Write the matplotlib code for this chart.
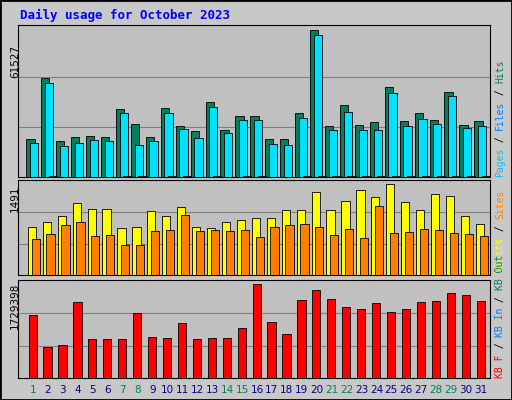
import matplotlib
matplotlib.use("Agg")
import matplotlib.pyplot as plt
from matplotlib.patches import Rectangle

days = list(range(1, 32))
weekend = [1, 7, 8, 14, 15, 21, 22, 28, 29]
hits_px = [139,78,141,137,136,137,109,124,137,108,126,131,102,130,116,116,139,139,113,30,126,105,125,122,87,121,113,120,92,125,121]
files_px = [143,83,146,143,140,141,113,145,141,113,129,138,107,133,120,120,144,145,118,35,130,112,130,130,93,126,119,124,96,128,126]
visits_px = [227,222,216,203,209,209,228,227,211,216,207,227,228,222,220,218,218,210,210,192,210,201,190,197,184,202,210,194,196,216,224]
sites_px = [239,234,225,222,236,235,245,245,231,230,215,231,230,231,230,237,227,225,224,227,235,229,238,206,233,232,229,230,233,234,236]
kb_px = [315,347,345,302,339,339,339,313,337,338,323,339,338,338,328,284,322,334,300,290,299,307,309,303,312,309,302,301,293,295,301]
hits = [(177-y)/147*61527 for y in hits_px]
files = [(177-y)/147*61527 for y in files_px]
pages = [v*0.01 for v in hits]
visits = [(275-y)/91*1491 for y in visits_px]
sites = [(275-y)/91*1491 for y in sites_px]
kb = [(378-y)/94*1729398 for y in kb_px]

W, H = 512, 400
fig = plt.figure(figsize=(5.12, 4.0), dpi=100, facecolor="#C8C8C8")
fig.patches.append(Rectangle((0, 0), 1, 1, transform=fig.transFigure, fill=False, edgecolor="black", lw=2))
fig.text(20/W, 1-15/H, "Daily usage for October 2023", color="#0000FF", fontsize=9,
         fontweight="bold", family="DejaVu Sans Mono", va="center")

def panel(top, bot):
    ax = fig.add_axes([18/W, 1-bot/H, 472/W, (bot-top)/H])
    ax.set_facecolor("#C0C0C0")
    ax.set_xlim(-0.005, 31.6)
    ax.set_xticks([]); ax.set_yticks([])
    for s in ax.spines.values():
        s.set_color("black")
    return ax

def bars(ax, vals, off, color, w=0.55):
    ax.bar([d+off for d in days], vals, width=w, align="edge", color=color,
           edgecolor="black", linewidth=0.6, zorder=3)

ax1 = panel(25, 177)
ax1.set_ylim(0, max(hits)*152/147)
for g in [0.33, 0.66]:
    ax1.axhline(max(hits)*152/147*g, color="#808080", lw=0.8, zorder=1)
bars(ax1, hits, -0.45, "#008060")
bars(ax1, files, -0.2, "#00E0FF")
bars(ax1, pages, 0.05, "#00C0FF")

ax2 = panel(180, 275)
ax2.set_ylim(0, max(visits)*95/91)
for g in [0.33, 0.66]:
    ax2.axhline(max(visits)*95/91*g, color="#808080", lw=0.8, zorder=1)
bars(ax2, visits, -0.35, "#FFFF00")
bars(ax2, sites, -0.1, "#FF8000")

ax3 = panel(280, 378)
ax3.set_ylim(0, max(kb)*98/94)
for g in [0.33, 0.66]:
    ax3.axhline(max(kb)*98/94*g, color="#808080", lw=0.8, zorder=1)
bars(ax3, kb, -0.3, "#FF0000")

for d in days:
    x = (33 + (d-1)*14.93)/W
    fig.text(x, 1-390/H, str(d), ha="center", va="center", fontsize=7.5,
             color="#00805C" if d in weekend else "#00008B")

fig.text(15/W, 1-45/H, "61527", rotation=90, ha="center", va="top", fontsize=7.5)
fig.text(15/W, 1-185/H, "1491", rotation=90, ha="center", va="top", fontsize=7.5)
fig.text(15/W, 1-283/H, "1729398", rotation=90, ha="center", va="top", fontsize=7.5)

def rlabel(y, parts):
    cur = 1 - y/H
    renderer = fig.canvas.get_renderer()
    for txt, col in parts:
        t = fig.text(500/W, cur, txt, rotation=90, ha="center", va="bottom",
                     fontsize=7, color=col, family="DejaVu Sans Mono")
        bb = t.get_window_extent(renderer)
        cur += bb.height/H

rlabel(177, [("Pages", "#00C0FF"), (" / ", "#000000"), ("Files", "#0080FF"),
             (" / ", "#000000"), ("Hits", "#008060")])
rlabel(272, [("Visits", "#FFFF00"), (" / ", "#000000"), ("Sites", "#FF8000")])
rlabel(378, [("KB F", "#FF0000"), (" / ", "#000000"), ("KB In", "#0080FF"),
             (" / ", "#000000"), ("KB Out", "#008060")])
fig.savefig("out.png", dpi=100, facecolor=fig.get_facecolor())
